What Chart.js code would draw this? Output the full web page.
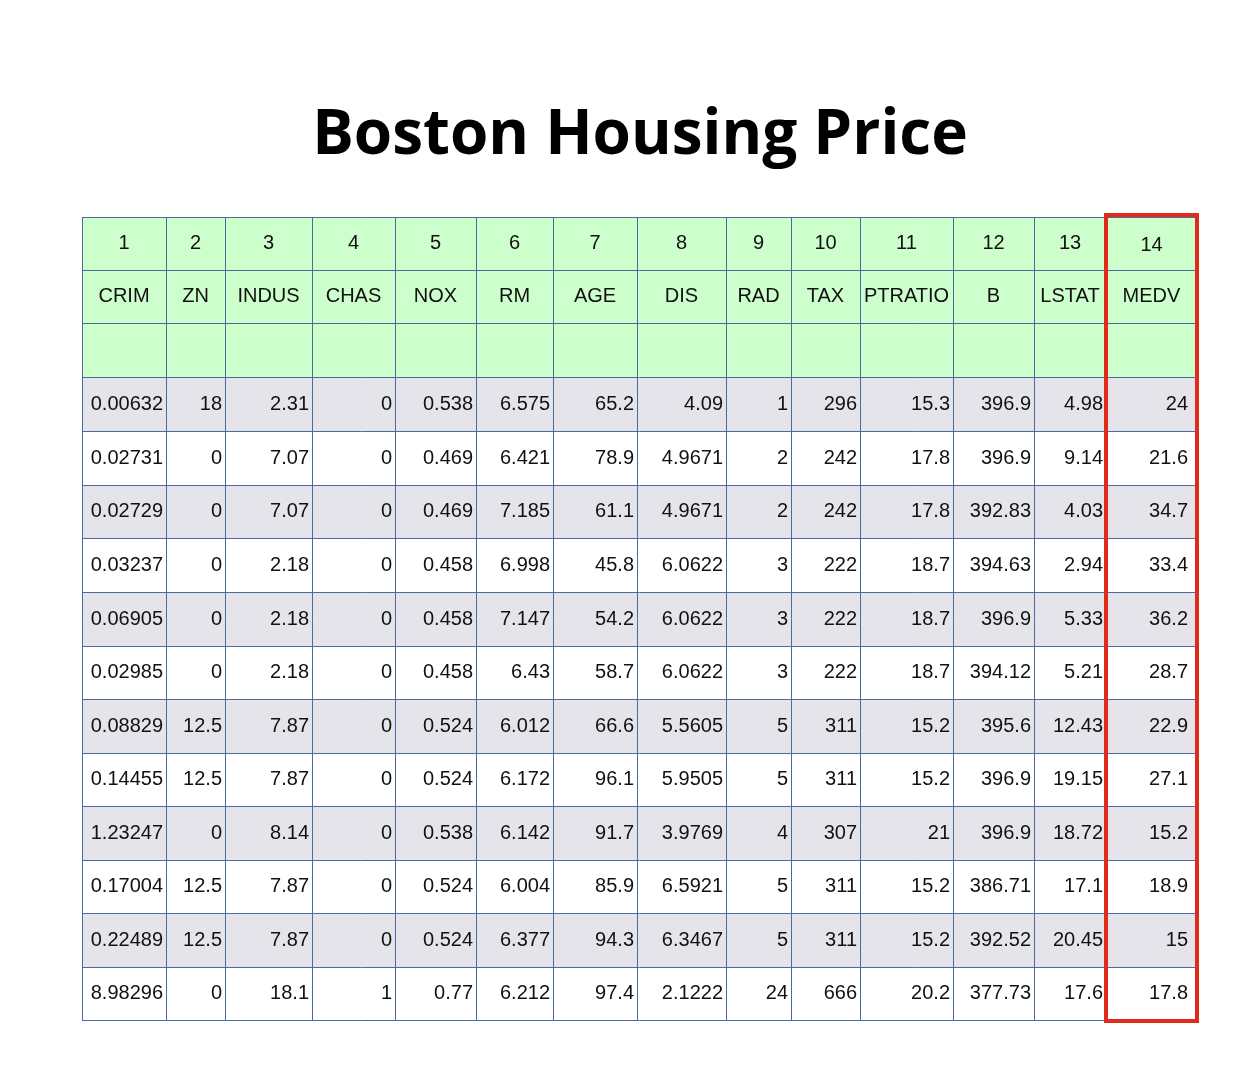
<!DOCTYPE html>
<html><head><meta charset="utf-8">
<script src="https://cdn.jsdelivr.net/npm/chart.js@4.4.0/dist/chart.umd.min.js"></script>
<style>html,body{margin:0;padding:0;background:#fff}#w{width:1235px;height:1080px}</style>
</head><body><div id="w"><canvas id="c"></canvas></div>
<script>
const title = "Boston Housing Price";
const colNumbers = ["1","2","3","4","5","6","7","8","9","10","11","12","13","14"];
const colNames = ["CRIM","ZN","INDUS","CHAS","NOX","RM","AGE","DIS","RAD","TAX","PTRATIO","B","LSTAT","MEDV"];
const rows = [
["0.00632","18","2.31","0","0.538","6.575","65.2","4.09","1","296","15.3","396.9","4.98","24"],
["0.02731","0","7.07","0","0.469","6.421","78.9","4.9671","2","242","17.8","396.9","9.14","21.6"],
["0.02729","0","7.07","0","0.469","7.185","61.1","4.9671","2","242","17.8","392.83","4.03","34.7"],
["0.03237","0","2.18","0","0.458","6.998","45.8","6.0622","3","222","18.7","394.63","2.94","33.4"],
["0.06905","0","2.18","0","0.458","7.147","54.2","6.0622","3","222","18.7","396.9","5.33","36.2"],
["0.02985","0","2.18","0","0.458","6.43","58.7","6.0622","3","222","18.7","394.12","5.21","28.7"],
["0.08829","12.5","7.87","0","0.524","6.012","66.6","5.5605","5","311","15.2","395.6","12.43","22.9"],
["0.14455","12.5","7.87","0","0.524","6.172","96.1","5.9505","5","311","15.2","396.9","19.15","27.1"],
["1.23247","0","8.14","0","0.538","6.142","91.7","3.9769","4","307","21","396.9","18.72","15.2"],
["0.17004","12.5","7.87","0","0.524","6.004","85.9","6.5921","5","311","15.2","386.71","17.1","18.9"],
["0.22489","12.5","7.87","0","0.524","6.377","94.3","6.3467","5","311","15.2","392.52","20.45","15"],
["8.98296","0","18.1","1","0.77","6.212","97.4","2.1222","24","666","20.2","377.73","17.6","17.8"]
];
// layout (style, not data)
const colEdges=[82,166,225,312,395,476,553,637,726,791,860,953,1034,1106,1197];
const rowEdges=[217,270,323,377,431,485,538,592,646,699,753,806,860,913,967,1020];

const tablePlugin={id:'table',afterDraw(chart){
 const ctx=chart.ctx,X=chart.scales.x,Y=chart.scales.y;
 const px=v=>X.getPixelForValue(v),py=v=>Y.getPixelForValue(v);
 ctx.save();
 ctx.fillStyle='#000';ctx.font='bold 62px "Open Sans","DejaVu Sans",sans-serif';
 ctx.textAlign='center';ctx.textBaseline='middle';
 ctx.fillText(title,px(640),py(136));
 const nR=rowEdges.length-1,nC=colEdges.length-1;
 for(let r=0;r<nR;r++){
  let fill = r<3?'#ccffcc':((r-3)%2===0?'#e4e4ea':'#ffffff');
  ctx.fillStyle=fill;
  ctx.fillRect(px(colEdges[0]),py(rowEdges[r]),px(colEdges[nC])-px(colEdges[0]),py(rowEdges[r+1])-py(rowEdges[r]));
 }
 ctx.strokeStyle='#4a6aa0';ctx.lineWidth=1;
 ctx.beginPath();
 for(const e of colEdges){ctx.moveTo(px(e)+.5,py(rowEdges[0]));ctx.lineTo(px(e)+.5,py(rowEdges[nR]));}
 for(const e of rowEdges){ctx.moveTo(px(colEdges[0]),py(e)+.5);ctx.lineTo(px(colEdges[nC]),py(e)+.5);}
 ctx.stroke();
 ctx.font='20px "Liberation Sans",Arial,sans-serif';ctx.fillStyle='#111';
 const mid=(a,b)=>(a+b)/2;
 for(let c=0;c<nC;c++){
  ctx.textAlign='center';
  const cx=px(mid(colEdges[c],colEdges[c+1]));
  ctx.fillText(colNumbers[c],cx,py(mid(rowEdges[0],rowEdges[1]))+(c===13?2:0));
  ctx.fillText(colNames[c],cx,py(mid(rowEdges[1],rowEdges[2])));
  ctx.textAlign='right';
  const pad = c===13?9:3;
  rows.forEach((row,i)=>{
   ctx.fillText(row[c],px(colEdges[c+1])-pad,py(mid(rowEdges[i+3],rowEdges[i+4])));
  });
 }
 ctx.strokeStyle='#e02a1a';ctx.lineWidth=4;
 ctx.strokeRect(px(1106),py(215),px(1197)-px(1106),py(1021)-py(215));
 ctx.restore();
}};
new Chart(document.getElementById('c'),{
 type:'scatter',
 data:{datasets:[{data:[]}]},
 options:{responsive:true,maintainAspectRatio:false,animation:false,
  layout:{padding:0},
  plugins:{legend:{display:false},tooltip:{enabled:false}},
  scales:{x:{type:'linear',min:0,max:1235,display:false},
          y:{type:'linear',min:0,max:1080,reverse:true,display:false}}},
 plugins:[tablePlugin]
});
</script></body></html>
